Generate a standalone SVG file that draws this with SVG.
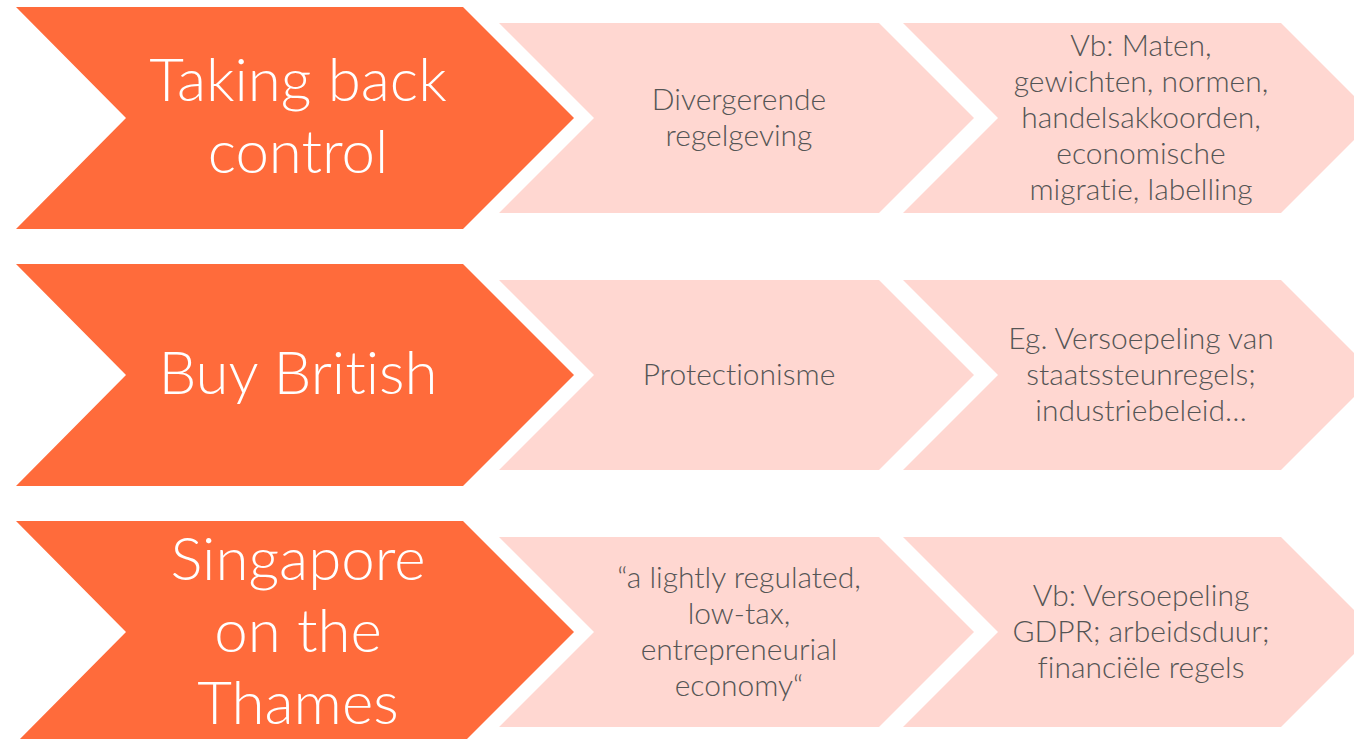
<svg xmlns="http://www.w3.org/2000/svg" width="1354" height="739" viewBox="0 0 1354 739">
<style>
.main{fill:#FF6B3B}
.sub{fill:#FFD7D1}
.tm{font-family:Lato,"Source Sans Pro","Open Sans","Liberation Sans",sans-serif;font-weight:300;font-size:60px;fill:#FFFFFF;text-anchor:middle;font-variant-ligatures:none}
.ts{font-family:Lato,"Source Sans Pro","Open Sans","Liberation Sans",sans-serif;font-weight:300;font-size:30px;fill:#555555;text-anchor:middle;font-variant-ligatures:none}
</style>
<defs>
<polygon id="big" points="16,0 463,0 574,111 463,222 16,222 126,111"/>
<polygon id="small1" points="499,0 879,0 974,95 879,190 499,190 594,95"/>
<polygon id="small2" points="903,0 1281,0 1376,95 1281,190 903,190 998,95"/>
</defs>
<rect width="1354" height="739" fill="#FFFFFF"/>
<g id="row1">
<g id="n1a"><use href="#big" class="main" y="7"/>
<text class="tm" x="298" y="101">Taking back</text>
<text class="tm" x="298" y="173">control</text></g>
<g id="n1b"><use href="#small1" class="sub" y="23"/>
<text class="ts" x="739" y="110">Divergerende</text>
<text class="ts" x="739" y="146">regelgeving</text></g>
<g id="n1c"><use href="#small2" class="sub" y="23"/>
<text class="ts" x="1141" y="56">Vb: Maten,</text>
<text class="ts" x="1141" y="92">gewichten, normen,</text>
<text class="ts" x="1141" y="128">handelsakkoorden,</text>
<text class="ts" x="1141" y="164">economische</text>
<text class="ts" x="1141" y="200">migratie, labelling</text></g>
</g>
<g id="row2">
<g id="n2a"><use href="#big" class="main" y="264"/>
<text class="tm" x="298" y="394">Buy British</text></g>
<g id="n2b"><use href="#small1" class="sub" y="280"/>
<text class="ts" x="739" y="385">Protectionisme</text></g>
<g id="n2c"><use href="#small2" class="sub" y="280"/>
<text class="ts" x="1141" y="349">Eg. Versoepeling van</text>
<text class="ts" x="1141" y="385">staatssteunregels;</text>
<text class="ts" x="1141" y="421">industriebeleid…</text></g>
</g>
<g id="row3">
<g id="n3a"><use href="#big" class="main" y="521"/>
<text class="tm" x="298" y="580">Singapore</text>
<text class="tm" x="298" y="652">on the</text>
<text class="tm" x="298" y="724">Thames</text></g>
<g id="n3b"><use href="#small1" class="sub" y="537"/>
<text class="ts" x="739" y="588">“a lightly regulated,</text>
<text class="ts" x="739" y="624">low-tax,</text>
<text class="ts" x="739" y="660">entrepreneurial</text>
<text class="ts" x="739" y="696">economy“</text></g>
<g id="n3c"><use href="#small2" class="sub" y="537"/>
<text class="ts" x="1141" y="606">Vb: Versoepeling</text>
<text class="ts" x="1141" y="642">GDPR; arbeidsduur;</text>
<text class="ts" x="1141" y="678">financiële regels</text></g>
</g>
<g id="connectors"></g>
</svg>
